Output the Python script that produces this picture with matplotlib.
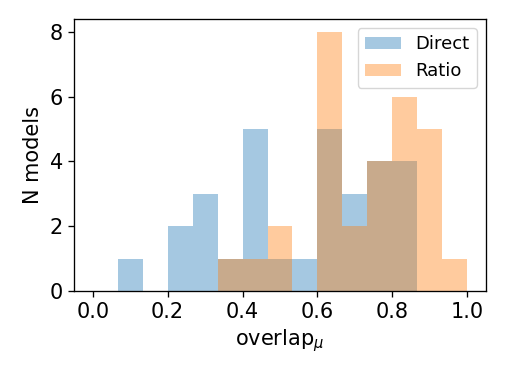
import numpy as np
from matplotlib import pyplot as plt

# 15 bins between 0 and 1, counts
bin_edges = np.linspace(0, 1, 16)
direct_counts = [0, 1, 0, 2, 3, 1, 5, 1, 1, 5, 3, 4, 4, 0, 0]
ratio_counts = [0, 0, 0, 0, 0, 1, 1, 2, 0, 8, 2, 4, 6, 5, 1]

centers = (bin_edges[:-1] + bin_edges[1:]) / 2

fig = plt.figure(figsize=(5.05, 3.79), dpi=100)
ax = fig.add_axes([74 / 505, 88 / 379, 412 / 505, 272 / 379])

ax.hist(centers, bins=bin_edges, weights=direct_counts, alpha=0.4, label="Direct")
ax.hist(centers, bins=bin_edges, weights=ratio_counts, alpha=0.4, label="Ratio")

ax.set_xticks([0.0, 0.2, 0.4, 0.6, 0.8, 1.0])
ax.set_yticks([0, 2, 4, 6, 8])
ax.tick_params(labelsize=15, length=4.3, width=0.95)
for s in ax.spines.values():
    s.set_linewidth(0.95)
ax.set_xlabel(r"overlap$_\mu$", fontsize=15)
ax.set_ylabel("N models", fontsize=15, labelpad=5)
ax.legend(fontsize=13)

fig.savefig("out.png", dpi=100)
